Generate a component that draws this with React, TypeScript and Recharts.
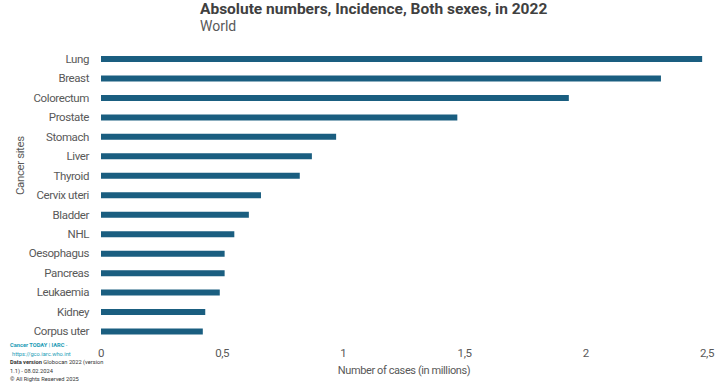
import React from 'react';
import { BarChart, Bar, XAxis, YAxis } from 'recharts';

const sites = [
  'Lung', 'Breast', 'Colorectum', 'Prostate', 'Stomach', 'Liver', 'Thyroid', 'Cervix uteri',
  'Bladder', 'NHL', 'Oesophagus', 'Pancreas', 'Leukaemia', 'Kidney', 'Corpus uter',
];
const cases = [2.48, 2.31, 1.93, 1.47, 0.97, 0.87, 0.82, 0.66, 0.61, 0.55, 0.51, 0.51, 0.49, 0.43, 0.42];
const xTicks = [0, 0.5, 1, 1.5, 2, 2.5];

const data = sites.map((name, i) => ({ name, value: cases[i] }));

const FONT = 'Roboto, "Open Sans", sans-serif';
const TEXT = '#595959';
const axisText = { fill: TEXT, fontSize: 11.5, letterSpacing: -0.4 };

const App: React.FC = () => {
  return (
    <div style={{ position: 'absolute', left: 0, top: 0, width: 716, height: 391, fontFamily: FONT, background: '#fff' }}>
      <div style={{ position: 'absolute', left: 200, top: 1, fontSize: 15.5, lineHeight: '17px', fontWeight: 700, color: '#404040', whiteSpace: 'nowrap' }}>
        Absolute numbers, Incidence, Both sexes, in 2022
      </div>
      <div style={{ position: 'absolute', left: 200, top: 18, fontSize: 14, lineHeight: '16px', color: TEXT }}>World</div>

      <BarChart
        width={716}
        height={391}
        data={data}
        layout="vertical"
        margin={{ top: 49, right: 9, bottom: 12, left: 0 }}
        barCategoryGap={0}
        style={{ fontFamily: FONT }}
      >
        <XAxis
          type="number"
          domain={[0, 2.5]}
          ticks={xTicks}
          axisLine={false}
          tickLine={false}
          height={38}
          interval={0}
          tick={axisText}
          tickFormatter={(v: number) => String(v).replace('.', ',')}
          label={{ value: 'Number of cases (in millions)', position: 'insideBottom', offset: 5, ...axisText, fontSize: 11 }}
        />
        <YAxis
          type="category"
          dataKey="name"
          width={101}
          axisLine={false}
          tickLine={false}
          tickMargin={6}
          interval={0}
          tick={axisText}
          label={{ value: 'Cancer sites', angle: -90, position: 'insideLeft', offset: 20, ...axisText }}
        />
        <Bar dataKey="value" fill="#1a5e80" barSize={6} isAnimationActive={false} />
      </BarChart>

      <div style={{ position: 'absolute', left: 10, top: 341, fontSize: 5.7, lineHeight: '8.6px', color: '#333', whiteSpace: 'nowrap' }}>
        <div style={{ color: '#1a9bb5' }}><b>Cancer TODAY</b> | <b>IARC</b> -</div>
        <div style={{ color: '#1a9bb5', paddingLeft: 2 }}>https://gco.iarc.who.int</div>
        <div><b>Data version</b> Globocan 2022 (version</div>
        <div>1.1) - 08.02.2024</div>
        <div>© All Rights Reserved 2025</div>
      </div>
    </div>
  );
};

export default App;
